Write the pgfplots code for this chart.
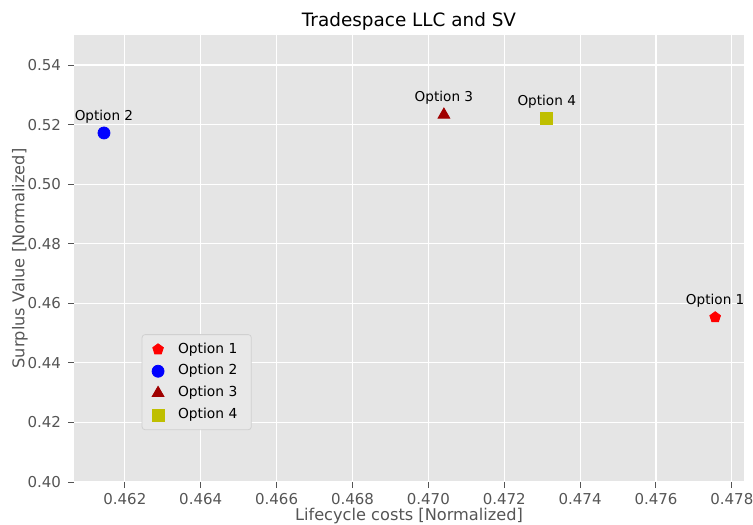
\documentclass[border=0pt]{standalone}
\usepackage{pgfplots}
\pgfplotsset{compat=1.18}
\usetikzlibrary{plotmarks}
\usepackage{fontspec}
\setmainfont{DejaVu Sans}
\definecolor{bg}{HTML}{E5E5E5}
\definecolor{tickgray}{HTML}{555555}
\definecolor{legbg}{HTML}{E8E8E8}
\definecolor{legedge}{HTML}{D0D0D0}
\definecolor{opt1}{HTML}{FF0000}
\definecolor{opt2}{HTML}{0000FF}
\definecolor{opt3}{HTML}{A00000}
\definecolor{opt4}{HTML}{BFBF00}
\begin{document}
\begin{tikzpicture}
\begin{axis}[
  scale only axis, width=335pt, height=223.5pt,
  xmin=0.46066, xmax=0.47832, ymin=0.40, ymax=0.5501,
  axis background/.style={fill=bg},
  axis line style={draw=none},
  grid=major, grid style={white, line width=0.6pt},
  xtick={0.462,0.464,0.466,0.468,0.470,0.472,0.474,0.476,0.478},
  ytick={0.40,0.42,0.44,0.46,0.48,0.50,0.52,0.54},
  xtick pos=bottom, ytick pos=left,
  scaled ticks=false,
  xticklabel style={yshift=1pt, /pgf/number format/.cd, fixed, fixed zerofill, precision=3},
  yticklabel style={/pgf/number format/.cd, fixed, fixed zerofill, precision=2},
  /pgf/number format/assume math mode=true,
  tick align=outside, major tick length=3pt,
  tick style={tickgray, line width=0.5pt},
  ticklabel style={font=\fontsize{7.5}{8}\selectfont, text=tickgray},
  title={Tradespace LLC and SV},
  title style={font=\fontsize{9.2}{10}\selectfont, yshift=-7pt},
  xlabel={Lifecycle costs [Normalized]},
  ylabel={Surplus Value [Normalized]},
  label style={font=\fontsize{8.1}{9}\selectfont, text=tickgray},
  xlabel style={yshift=5pt},
  ylabel style={yshift=-7pt},
  legend cell align=left,
  legend style={at={(0.101,0.116)}, anchor=south west, fill=legbg, draw=legedge,
    rounded corners=1.5pt, font=\fontsize{6.9}{7.5}\selectfont, row sep=0.2pt,
    inner xsep=5pt, inner ysep=2pt,
    /tikz/every odd column/.append style={column sep=5pt}},
  every node near coord/.append style={text=black, font=\fontsize{6.8}{7.5}\selectfont, anchor=south, yshift=1.5pt},
]
\addplot[only marks, mark=pentagon*, mark size=2.8pt, color=opt1,
  nodes near coords={Option 1}] coordinates {(0.47756,0.4553)};
\addplot[only marks, mark=*, mark size=3pt, color=opt2,
  nodes near coords={Option 2}] coordinates {(0.46145,0.5172)};
\addplot[only marks, mark=triangle*, mark size=3.4pt, color=opt3,
  nodes near coords={Option 3}] coordinates {(0.47041,0.5233)};
\addplot[only marks, mark=square*, mark size=3pt, color=opt4,
  nodes near coords={Option 4}] coordinates {(0.47312,0.5222)};
\legend{Option 1,Option 2,Option 3,Option 4}
\coordinate (SW) at (rel axis cs:0,0);
\coordinate (NE) at (rel axis cs:1,1);
\end{axis}
\pgfresetboundingbox
\path ([shift={(-37pt,-21pt)}]SW) rectangle ([shift={(4.5pt,17.5pt)}]NE);
\end{tikzpicture}
\end{document}
